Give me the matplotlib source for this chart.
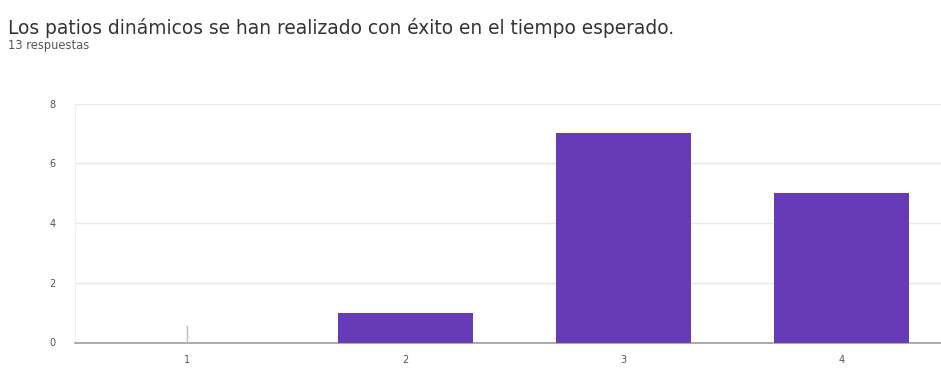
import matplotlib.pyplot as plt

plt.rcParams['font.family'] = ['DejaVu Sans']

categories = [1, 2, 3, 4]
counts = [0, 1, 7, 5]
y_ticks = [0, 2, 4, 6, 8]

title = "Los patios dinámicos se han realizado con éxito en el tiempo esperado."
subtitle = "13 respuestas"

fig = plt.figure(figsize=(9.41, 3.69), dpi=100)
ax = fig.add_axes([75 / 941, 26.5 / 369, 1 - 75 / 941, 239 / 369])

ax.bar(categories, counts, width=0.62, color="#673ab7", zorder=3)

# zero-count categories get a thin stub instead of a bar
zeros = [c for c, v in zip(categories, counts) if v == 0]
ax.vlines(zeros, 0, 0.6, color="#bdbdbd", linewidth=1, zorder=3)

ax.set_xlim(0.487, 4.455)
ax.set_ylim(0, 8)
ax.set_xticks(categories)
ax.set_xticklabels([str(c) for c in categories])
ax.set_yticks(y_ticks)
ax.grid(axis="y", color="#e8e8e8", linewidth=1, zorder=0)
ax.tick_params(length=0, labelsize=7, labelcolor="#555555")
ax.tick_params(axis="y", pad=14)
ax.tick_params(axis="x", pad=9)

for side in ("top", "right"):
    ax.spines[side].set_visible(False)
ax.spines["left"].set_color("#f0f0f0")
ax.spines["bottom"].set_color("#9e9e9e")
ax.spines["bottom"].set_linewidth(1.2)

fig.text(8 / 941, 1 - 28 / 369, title, fontsize=13.4, color="#333333", va="center")
fig.text(8 / 941, 1 - 45 / 369, subtitle, fontsize=8.3, color="#555555", va="center")

fig.savefig("out.png", dpi=100)
